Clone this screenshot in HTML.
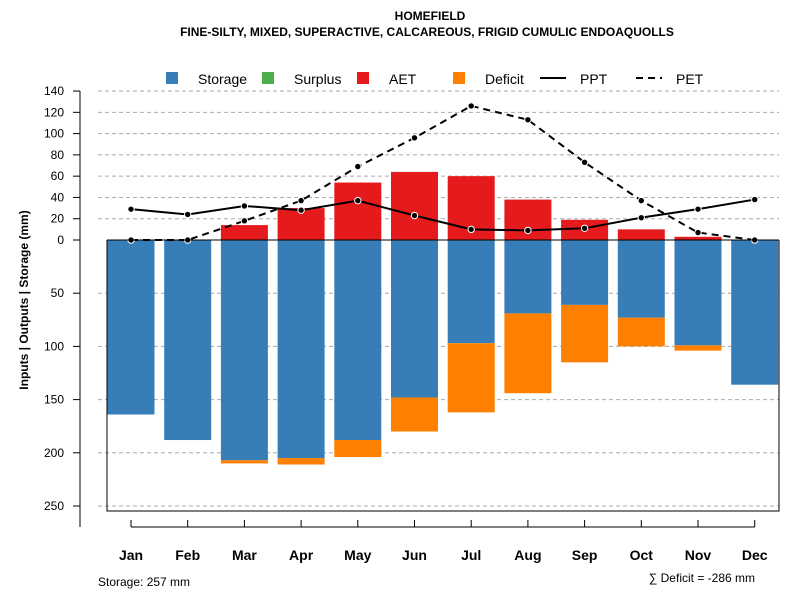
<!DOCTYPE html>
<html><head><meta charset="utf-8"><style>
body{margin:0;background:#fff;font-family:"Liberation Sans",Arial,sans-serif}
</style></head><body>
<svg id="c" width="800" height="600" xmlns="http://www.w3.org/2000/svg" font-family="Liberation Sans, Arial, sans-serif">
<text x="430" y="20" text-anchor="middle" font-size="12" font-weight="bold">HOMEFIELD</text>
<text x="427" y="36" text-anchor="middle" font-size="12" font-weight="bold">FINE-SILTY, MIXED, SUPERACTIVE, CALCAREOUS, FRIGID CUMULIC ENDOAQUOLLS</text>
<g id="grid"></g><g id="bars"></g><g id="lines"></g><g id="axes"></g>
<g font-size="14">
<rect x="166" y="72" width="12" height="12" fill="#377eb8"/><text x="198" y="84">Storage</text>
<rect x="262" y="72" width="12" height="12" fill="#4daf4a"/><text x="294" y="84">Surplus</text>
<rect x="357" y="72" width="12" height="12" fill="#e41a1c"/><text x="389" y="84">AET</text>
<rect x="453" y="72" width="12" height="12" fill="#ff7f00"/><text x="485" y="84">Deficit</text>
<line x1="540" y1="78" x2="566" y2="78" stroke="#000" stroke-width="2"/><text x="580" y="84">PPT</text>
<line x1="636" y1="78" x2="662" y2="78" stroke="#000" stroke-width="2" stroke-dasharray="7,5"/><text x="676" y="84">PET</text>
</g>
<text transform="translate(28,300) rotate(-90)" text-anchor="middle" font-size="12" font-weight="bold">Inputs | Outputs | Storage    (mm)</text>
<text x="98" y="586" font-size="12">Storage: 257 mm</text>
<text x="755" y="582" text-anchor="end" font-size="12">∑ Deficit = -286 mm</text>
</svg>
<script>
const months=["Jan","Feb","Mar","Apr","May","Jun","Jul","Aug","Sep","Oct","Nov","Dec"];
const storage=[164,188,207,205,188,148,97,69,61,73,99,136];
const deficit=[0,0,3,6,16,32,65,75,54,27,5,0];
const aet=[0,0,14,30,54,64,60,38,19,10,3,0];
const ppt=[29,24,32,28,37,23,10,9,11,21,29,38];
const pet=[0,0,18,37,69,96,126,113,73,37,7,0];
const yTicksPos=[0,20,40,60,80,100,120,140];
const yTicksNeg=[50,100,150,200,250];
const NS="http://www.w3.org/2000/svg";
const y=v=>240-v*1.064;
const x=i=>131+i*56.7;
const bw=47;
function mk(p,tag,a){const e=document.createElementNS(NS,tag);for(const k in a)e.setAttribute(k,a[k]);document.getElementById(p).appendChild(e);return e;}
// grid
[...yTicksPos.filter(v=>v>0),...yTicksNeg.map(v=>-v)].forEach(v=>{
 const l=mk("grid","line",{x1:98,x2:779,y1:y(v),y2:y(v),stroke:"#aaa","stroke-dasharray":"4,3"});
 
 
});
// bars
months.forEach((m,i)=>{
 let r=mk("bars","rect",{x:x(i)-bw/2,y:240,width:bw,height:storage[i]*1.064,fill:"#377eb8"});
 
 
 if(deficit[i]>0){r=mk("bars","rect",{x:x(i)-bw/2,y:y(-storage[i]),width:bw,height:deficit[i]*1.064,fill:"#ff7f00"});
 
 }
 if(aet[i]>0){r=mk("bars","rect",{x:x(i)-bw/2,y:y(aet[i]),width:bw,height:aet[i]*1.064,fill:"#e41a1c"});
 
 }
});
// zero line & box
let z=mk("axes","line",{x1:107,x2:779,y1:240,y2:240,stroke:"#000"});


let b=mk("axes","path",{d:"M107,240V511H779V240",fill:"none",stroke:"#000"});


// lines
[[ppt,"none","ppt"],[pet,"7,5","pet"]].forEach(([d,da,n])=>{
 const p=mk("lines","polyline",{points:d.map((v,i)=>x(i)+","+y(v)).join(" "),fill:"none",stroke:"#000","stroke-width":2,"stroke-dasharray":da});
 
 
 d.forEach((v,i)=>{const c=mk("lines","circle",{cx:x(i),cy:y(v),r:3.2,fill:"#000",stroke:"#fff","stroke-width":1});
 
 });
});
// y axis
let ya=mk("axes","line",{x1:80,x2:80,y1:y(140),y2:527,stroke:"#000"});


[...yTicksPos,...yTicksNeg.map(v=>-v)].forEach(v=>{
 const t=mk("axes","line",{x1:73,x2:80,y1:y(v),y2:y(v),stroke:"#000"});
 
 
 const tx=mk("axes","text",{x:64,y:y(v)+4,"text-anchor":"end","font-size":12});
 tx.textContent=Math.abs(v);
 
 
});
// x axis
let xa=mk("axes","line",{x1:x(0),x2:x(11),y1:527,y2:527,stroke:"#000"});


months.forEach((m,i)=>{
 const t=mk("axes","line",{x1:x(i),x2:x(i),y1:520,y2:527,stroke:"#000"});
 
 
 const tx=mk("axes","text",{x:x(i),y:560,"text-anchor":"middle","font-size":14,"font-weight":"bold"});
 tx.textContent=m;
 
 
});
</script>
</body></html>
